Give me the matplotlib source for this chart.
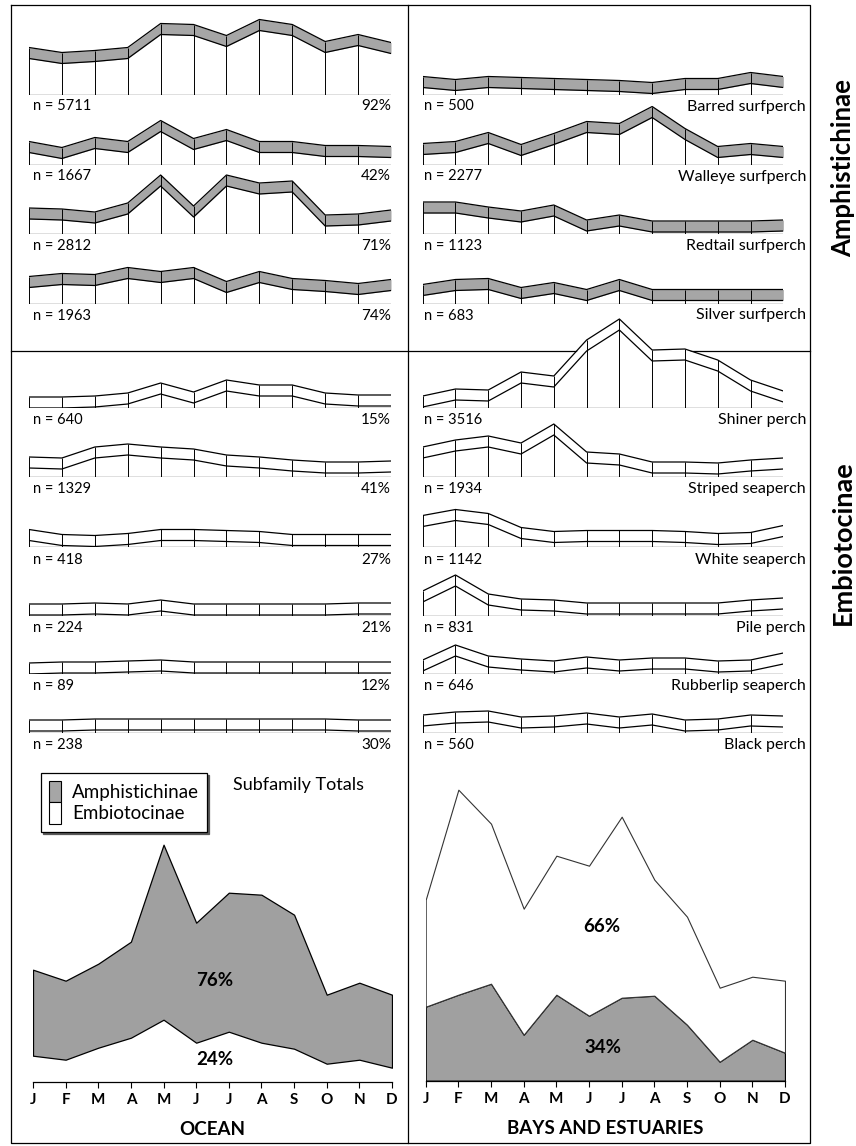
import matplotlib
matplotlib.use('Agg')
import numpy as np
from matplotlib import pyplot as plt
from matplotlib.patches import Patch

plt.rcParams['font.family'] = ['Lato', 'DejaVu Sans']

months = ['J', 'F', 'M', 'A', 'M', 'J', 'J', 'A', 'S', 'O', 'N', 'D']

species = ['Barred surfperch', 'Walleye surfperch', 'Redtail surfperch', 'Silver surfperch',
           'Shiner perch', 'Striped seaperch', 'White seaperch', 'Pile perch',
           'Rubberlip seaperch', 'Black perch']
subfamily = ['A', 'A', 'A', 'A', 'E', 'E', 'E', 'E', 'E', 'E']

ocean_n = [5711, 1667, 2812, 1963, 640, 1329, 418, 224, 89, 238]
ocean_pct = ['92%', '42%', '71%', '74%', '15%', '41%', '27%', '21%', '12%', '30%']
bay_n = [500, 2277, 1123, 683, 3516, 1934, 1142, 831, 646, 560]

# monthly relative abundance (scaled to drawing height)
ocean_vals = [
    [36, 31, 33, 36, 60, 59, 48, 64, 59, 42, 49, 41],
    [12, 6, 16, 12, 33, 15, 24, 12, 12, 8, 8, 7],
    [15, 14, 11, 20, 48, 17, 48, 40, 42, 8, 9, 13],
    [16, 19, 18, 25, 21, 25, 11, 21, 14, 12, 9, 13],
    [0, 0, 1, 4, 14, 5, 17, 12, 12, 4, 2, 2],
    [9, 8, 19, 22, 19, 17, 11, 9, 6, 4, 4, 5],
    [7, 2, 1, 3, 7, 7, 6, 5, 2, 2, 2, 2],
    [1, 1, 2, 1, 5, 1, 1, 1, 1, 1, 2, 2],
    [0, 1, 1, 2, 3, 1, 1, 1, 1, 1, 1, 1],
    [2, 2, 3, 3, 3, 3, 3, 3, 3, 3, 2, 2],
]
bay_vals = [
    [7, 4, 7, 6, 5, 4, 3, 1, 5, 5, 11, 7],
    [10, 12, 21, 9, 20, 32, 30, 47, 25, 7, 10, 7],
    [21, 21, 16, 12, 18, 3, 8, 2, 2, 2, 2, 3],
    [8, 13, 14, 5, 10, 3, 13, 3, 3, 3, 3, 3],
    [1, 8, 7, 25, 21, 57, 78, 47, 48, 37, 17, 6],
    [19, 26, 30, 23, 42, 14, 12, 4, 4, 3, 6, 8],
    [21, 27, 23, 9, 5, 6, 6, 6, 5, 3, 4, 11],
    [14, 30, 11, 6, 5, 2, 2, 2, 2, 2, 5, 7],
    [3, 18, 7, 4, 2, 6, 3, 5, 5, 2, 3, 10],
    [7, 10, 11, 5, 6, 9, 5, 8, 2, 3, 7, 6],
]

ocean_total = [112, 101, 118, 140, 237, 159, 189, 187, 167, 87, 99, 87]
ocean_embio = [26, 22, 34, 44, 62, 39, 50, 39, 33, 18, 22, 14]
bay_total = [181, 291, 257, 172, 225, 215, 264, 201, 164, 93, 104, 100]
bay_amphi = [74, 86, 97, 46, 86, 65, 83, 85, 56, 19, 41, 28]

# layout (pixels)
W, H = 856, 1146
GRAY = '#a6a6a6'
BAND = 11
row_base = [94.5, 164.5, 234, 303.5, 408, 477, 547.5, 616, 674, 733]
left_x = (29, 391)
right_x = (422.7, 783.3)
x = np.arange(12)

fig = plt.figure(figsize=(W / 100, H / 100), dpi=100)


def box(x0, x1, base, h):
    return [x0 / W, 1 - base / H, (x1 - x0) / W, h / H]


def ftext(px, py, s, **kw):
    fig.text(px / W, 1 - py / H, s, **kw)


# frame
bg = fig.add_axes([0, 0, 1, 1])
bg.set_xlim(0, W)
bg.set_ylim(H, 0)
bg.axis('off')
bg.plot([11, 810, 810, 11, 11], [5, 5, 1143, 1143, 5], color='k', lw=0.9)
bg.plot([408, 408], [5, 1143], color='k', lw=0.9)
bg.plot([11, 810], [351, 351], color='k', lw=0.9)


def ribbon(ax, v, shaded):
    v = np.asarray(v, dtype=float)
    top = v + BAND
    ax.fill_between(x, 0, top, color='white', lw=0, zorder=1)
    if shaded:
        ax.fill_between(x, v, top, color=GRAY, lw=0, zorder=2)
    ax.vlines(x, 0, top, color='k', lw=0.7, zorder=3)
    ax.plot(x, v, color='k', lw=0.9, zorder=4)
    ax.plot(x, top, color='k', lw=0.9, zorder=4)
    ax.plot([0, 11], [0, 0], color='k', lw=0.9, zorder=4)
    ax.set_xlim(0, 11)
    ax.set_ylim(0, 100)
    ax.axis('off')


for i in range(len(species)):
    shaded = subfamily[i] == 'A'
    base = row_base[i]
    axl = fig.add_axes(box(*left_x, base, 100))
    ribbon(axl, ocean_vals[i], shaded)
    axr = fig.add_axes(box(*right_x, base, 100))
    ribbon(axr, bay_vals[i], shaded)
    ftext(33, base + 12, f'n = {ocean_n[i]}', fontsize=10.5, va='center', ha='left')
    ftext(391, base + 12, ocean_pct[i], fontsize=11, va='center', ha='right')
    ftext(424, base + 12, f'n = {bay_n[i]}', fontsize=10.5, va='center', ha='left')
    ftext(806, base + 12, species[i], fontsize=11.5, va='center', ha='right')

ftext(843, 168, 'Amphistichinae', fontsize=18.5, fontweight='bold', rotation=90,
      ha='center', va='center')
ftext(843, 543, 'Embiotocinae', fontsize=19.5, fontweight='bold', rotation=90,
      ha='center', va='center')


def totals_axes(x0, x1, base):
    ax = fig.add_axes(box(x0, x1, base, 300))
    ax.set_xlim(0, 11)
    ax.set_ylim(0, 300)
    for s in ['top', 'right', 'left']:
        ax.spines[s].set_visible(False)
    ax.spines['bottom'].set_linewidth(0.9)
    ax.set_yticks([])
    ax.set_xticks(x)
    ax.set_xticklabels(months, fontsize=11, fontweight='bold')
    ax.tick_params(axis='x', direction='out', length=4, width=0.8, pad=4)
    ax.patch.set_alpha(0)
    return ax


# ocean totals
axo = totals_axes(33, 392, 1081.7)
axo.fill_between(x, 0, ocean_embio, color='white', lw=0)
axo.fill_between(x, ocean_embio, ocean_total, facecolor='#a0a0a0', edgecolor='k', lw=0.9)
axo.text(5.58, 101, '76%', fontsize=13.5, fontweight='bold', ha='center', va='center')
axo.text(5.58, 22, '24%', fontsize=13.5, fontweight='bold', ha='center', va='center')
axo.set_xlabel('OCEAN', fontsize=13.5, fontweight='bold', labelpad=10)

# bays totals
axb = totals_axes(425.7, 785, 1080.7)
axb.fill_between(x, 0, bay_amphi, facecolor='#a0a0a0', edgecolor='k', lw=0.9)
axb.fill_between(x, bay_amphi, bay_total, facecolor='white', edgecolor='#333333', lw=0.8)
axb.text(5.4, 154, '66%', fontsize=13.5, fontweight='bold', ha='center', va='center')
axb.text(5.43, 33, '34%', fontsize=13.5, fontweight='bold', ha='center', va='center')
axb.set_xlabel('BAYS AND ESTUARIES', fontsize=13.5, fontweight='bold', labelpad=10)

handles = [Patch(facecolor=GRAY, edgecolor='k', lw=0.8, label='Amphistichinae'),
           Patch(facecolor='white', edgecolor='k', lw=0.8, label='Embiotocinae')]
leg = axo.legend(handles=handles, loc='upper left', bbox_to_anchor=(41 / W, 1 - 773 / H),
                 bbox_transform=fig.transFigure, borderaxespad=0, fontsize=13.5,
                 handlelength=0.6, handleheight=1.35, labelspacing=0, handletextpad=0.6,
                 fancybox=False, edgecolor='k', framealpha=1,
                 shadow={'color': '0.35', 'alpha': 1, 'ox': 1.5, 'oy': -1.5}, borderpad=0.45)
leg.get_frame().set_linewidth(0.9)

ftext(233, 785, 'Subfamily Totals', fontsize=13, ha='left', va='center')

plt.savefig('out.png', dpi=100)
